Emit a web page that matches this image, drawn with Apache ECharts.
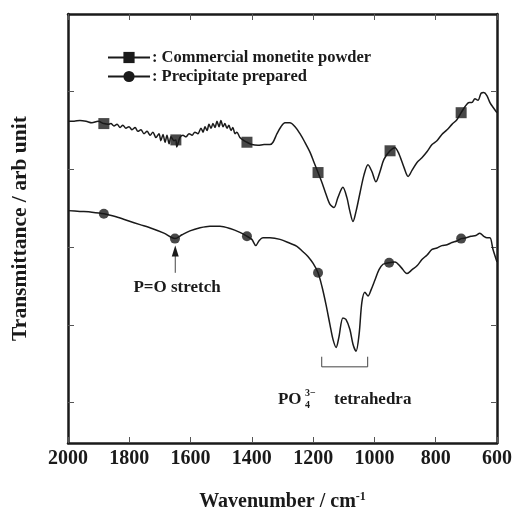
<!DOCTYPE html>
<html>
<head>
<meta charset="utf-8">
<script src="https://cdn.jsdelivr.net/npm/echarts@6/dist/echarts.min.js"></script>
<style>
  html, body { margin: 0; padding: 0; background: #fff; }
  #chart { width: 513px; height: 512px; }
</style>
</head>
<body>
<div id="chart"></div>
<script>
// wavenumber (cm-1) and transmittance (arb)
const monetiteX = [2000, 1980, 1961, 1941, 1922, 1902, 1883, 1869, 1860, 1850, 1840, 1830, 1821, 1811, 1801, 1791, 1781, 1772, 1762, 1752, 1742, 1732, 1723, 1713, 1703, 1697, 1690, 1683, 1677, 1670, 1664, 1654, 1648, 1645, 1635, 1625, 1615, 1605, 1595, 1586, 1576, 1566, 1559, 1553, 1546, 1540, 1533, 1527, 1520, 1514, 1507, 1501, 1494, 1488, 1481, 1475, 1468, 1462, 1455, 1449, 1439, 1426, 1416, 1400, 1380, 1360, 1341, 1331, 1318, 1305, 1292, 1276, 1259, 1243, 1227, 1210, 1197, 1184, 1171, 1158, 1145, 1132, 1119, 1103, 1090, 1080, 1070, 1060, 1047, 1034, 1021, 1008, 995, 982, 969, 949, 933, 920, 903, 890, 877, 861, 845, 828, 812, 796, 780, 763, 747, 731, 717, 704, 691, 682, 672, 662, 652, 643, 633, 623, 613, 600]
const monetiteY = [3.62, 3.62, 3.63, 3.62, 3.60, 3.62, 3.59, 3.58, 3.59, 3.56, 3.58, 3.54, 3.57, 3.53, 3.55, 3.51, 3.54, 3.49, 3.51, 3.46, 3.49, 3.44, 3.48, 3.41, 3.46, 3.37, 3.45, 3.35, 3.44, 3.33, 3.42, 3.37, 3.38, 3.29, 3.41, 3.44, 3.42, 3.46, 3.44, 3.48, 3.46, 3.53, 3.48, 3.55, 3.50, 3.58, 3.53, 3.59, 3.54, 3.62, 3.55, 3.63, 3.55, 3.59, 3.53, 3.57, 3.50, 3.54, 3.46, 3.48, 3.41, 3.37, 3.35, 3.32, 3.31, 3.32, 3.32, 3.35, 3.46, 3.55, 3.60, 3.60, 3.55, 3.46, 3.35, 3.22, 3.09, 2.96, 2.83, 2.68, 2.55, 2.51, 2.64, 2.77, 2.64, 2.46, 2.33, 2.46, 2.70, 2.93, 3.06, 2.97, 2.84, 2.97, 3.13, 3.24, 3.28, 3.20, 3.02, 2.91, 2.99, 3.09, 3.15, 3.23, 3.32, 3.37, 3.45, 3.51, 3.58, 3.64, 3.73, 3.81, 3.86, 3.86, 3.91, 3.89, 3.98, 3.99, 3.95, 3.86, 3.80, 3.73]

const precipX = [2000, 1961, 1922, 1883, 1843, 1804, 1765, 1726, 1687, 1651, 1628, 1602, 1569, 1537, 1504, 1471, 1439, 1416, 1400, 1387, 1377, 1364, 1341, 1308, 1276, 1253, 1233, 1217, 1200, 1184, 1171, 1158, 1145, 1135, 1125, 1116, 1103, 1093, 1080, 1070, 1060, 1050, 1041, 1031, 1021, 1011, 998, 985, 972, 952, 933, 913, 894, 877, 861, 845, 828, 812, 796, 780, 763, 747, 731, 717, 701, 685, 669, 656, 643, 633, 623, 613, 600]
const precipY = [2.47, 2.46, 2.45, 2.43, 2.39, 2.34, 2.29, 2.24, 2.18, 2.11, 2.16, 2.21, 2.25, 2.27, 2.27, 2.24, 2.19, 2.14, 2.10, 2.02, 2.08, 2.12, 2.12, 2.10, 2.05, 2.01, 1.94, 1.88, 1.79, 1.67, 1.49, 1.26, 1.00, 0.81, 0.71, 0.84, 1.09, 1.07, 0.94, 0.75, 0.66, 0.88, 1.29, 1.42, 1.37, 1.45, 1.58, 1.71, 1.78, 1.80, 1.81, 1.74, 1.66, 1.71, 1.76, 1.84, 1.90, 1.97, 1.99, 2.02, 2.03, 2.06, 2.08, 2.11, 2.12, 2.14, 2.15, 2.18, 2.14, 2.12, 2.12, 1.97, 1.81]

// marker positions
const squareX = [1883, 1648, 1416, 1184, 949, 717]
const squareY = [3.59, 3.38, 3.35, 2.96, 3.24, 3.73]
const circleX = [1883, 1651, 1416, 1184, 952, 717]
const circleY = [2.43, 2.11, 2.14, 1.67, 1.80, 2.11]

const yTicks = [0, 1, 2, 3, 4]

const zip = (a, b) => a.map((v, i) => [v, b[i]])

const chart = echarts.init(document.getElementById('chart'))
const FONT = '"Liberation Serif", "Times New Roman", serif'
const INK = '#1a1a1a'

const baseX = {
  type: 'value',
  min: 600,
  max: 2000,
  interval: 200,
  inverse: true,
  axisLine: { show: true, onZero: false, lineStyle: { color: INK, width: 2.5 } },
  axisTick: { show: true, inside: true, length: 6, lineStyle: { color: '#555', width: 1 } },
  splitLine: { show: false },
}
const baseY = {
  type: 'value',
  min: -0.52,
  max: 5,
  axisLine: { show: true, onZero: false, lineStyle: { color: INK, width: 2.5 } },
  axisTick: { show: true, inside: true, length: 6, customValues: yTicks, lineStyle: { color: '#555', width: 1 } },
  axisLabel: { show: false },
  splitLine: { show: false },
}

const option = {
  animation: false,
  grid: { left: 68, right: 16, top: 14, bottom: 69, containLabel: false, outerBoundsMode: 'none' },
  legend: {
    orient: 'vertical',
    left: 102,
    top: 44,
    itemWidth: 42,
    itemHeight: 14,
    itemGap: 2,
    selectedMode: false,
    data: ['Commercial monetite powder', 'Precipitate prepared'],
    formatter: (n) => ': ' + n,
    textStyle: { fontFamily: FONT, fontWeight: 'bold', fontSize: 16.5, color: INK, padding: [0, 0, 0, -3] },
  },
  xAxis: [
    Object.assign({}, baseX, {
      position: 'bottom',
      name: '{a|Wavenumber / cm}{s|-1}',
      nameLocation: 'middle',
      nameGap: 48,
      nameTextStyle: {
        rich: {
          a: { fontFamily: FONT, fontWeight: 'bold', fontSize: 20, color: INK },
          s: { fontFamily: FONT, fontWeight: 'bold', fontSize: 12, color: INK, verticalAlign: 'top', padding: [0, 0, 10, 0] },
        },
      },
      axisLabel: { show: true, margin: 6, fontFamily: FONT, fontWeight: 'bold', fontSize: 20, color: INK, formatter: (v) => String(v) },
    }),
    Object.assign({}, baseX, { position: 'top', axisLabel: { show: false } }),
  ],
  yAxis: [
    Object.assign({}, baseY, {
      position: 'left',
      name: 'Transmittance / arb unit',
      nameLocation: 'middle',
      nameGap: 37,
      nameTextStyle: { fontFamily: FONT, fontWeight: 'bold', fontSize: 21.5, color: INK },
    }),
    Object.assign({}, baseY, { position: 'right' }),
  ],
  series: [
    {
      name: 'Commercial monetite powder',
      type: 'line',
      data: zip(monetiteX, monetiteY),
      symbol: 'rect',
      showSymbol: false,
      smooth: 0.3,
      lineStyle: { color: INK, width: 1.5 },
      itemStyle: { color: INK },
      emphasis: { disabled: true },
    },
    {
      name: 'Precipitate prepared',
      type: 'line',
      data: zip(precipX, precipY),
      symbol: 'circle',
      showSymbol: false,
      smooth: 0.3,
      lineStyle: { color: INK, width: 1.5 },
      itemStyle: { color: INK },
      emphasis: { disabled: true },
    },
    {
      name: 'squares',
      type: 'scatter',
      data: zip(squareX, squareY),
      symbol: 'rect',
      symbolSize: 11,
      itemStyle: { color: INK },
      emphasis: { disabled: true },
    },
    {
      name: 'circles',
      type: 'scatter',
      data: zip(circleX, circleY),
      symbol: 'circle',
      symbolSize: 10,
      itemStyle: { color: INK },
      emphasis: { disabled: true },
    },
  ],
}
chart.setOption(option)

// annotations placed in data coordinates
const px = (x, y) => chart.convertToPixel({ xAxisIndex: 0, yAxisIndex: 0 }, [x, y])
const arrowTip = px(1650, 2.02)
const arrowBase = px(1650, 1.67)
const brL = px(1172, 0.59)
const brR = px(1022, 0.59)
const brY = px(1100, 0.46)[1]
const poPos = px(1315, 0.04)
const tetPos = px(1132, 0.04)
const pLabel = px(1644, 1.48)
const textFont = { fontFamily: FONT, fontWeight: 'bold', fill: INK }

chart.setOption({
  graphic: [
    { type: 'line', shape: { x1: arrowTip[0], y1: arrowTip[1] + 8, x2: arrowBase[0], y2: arrowBase[1] }, style: { stroke: '#444', lineWidth: 1 } },
    { type: 'polygon', shape: { points: [[arrowTip[0], arrowTip[1]], [arrowTip[0] - 3.5, arrowTip[1] + 11], [arrowTip[0] + 3.5, arrowTip[1] + 11]] }, style: { fill: INK } },
    { type: 'text', x: pLabel[0], y: pLabel[1], style: Object.assign({ text: 'P=O stretch', fontSize: 17, align: 'center', verticalAlign: 'middle' }, textFont) },
    { type: 'polyline', shape: { points: [[brL[0], brL[1]], [brL[0], brY], [brR[0], brY], [brR[0], brL[1]]] }, style: { stroke: '#444', lineWidth: 1, fill: null } },
    { type: 'text', x: poPos[0], y: poPos[1], style: Object.assign({ text: 'PO', fontSize: 17, align: 'left', verticalAlign: 'middle' }, textFont) },
    { type: 'text', x: poPos[0] + 27, y: poPos[1] - 6, style: Object.assign({ text: '3−', fontSize: 10, align: 'left', verticalAlign: 'middle' }, textFont) },
    { type: 'text', x: poPos[0] + 27, y: poPos[1] + 6, style: Object.assign({ text: '4', fontSize: 10, align: 'left', verticalAlign: 'middle' }, textFont) },
    { type: 'text', x: tetPos[0], y: tetPos[1], style: Object.assign({ text: 'tetrahedra', fontSize: 17, align: 'left', verticalAlign: 'middle' }, textFont) },
  ],
})
</script>
</body>
</html>
